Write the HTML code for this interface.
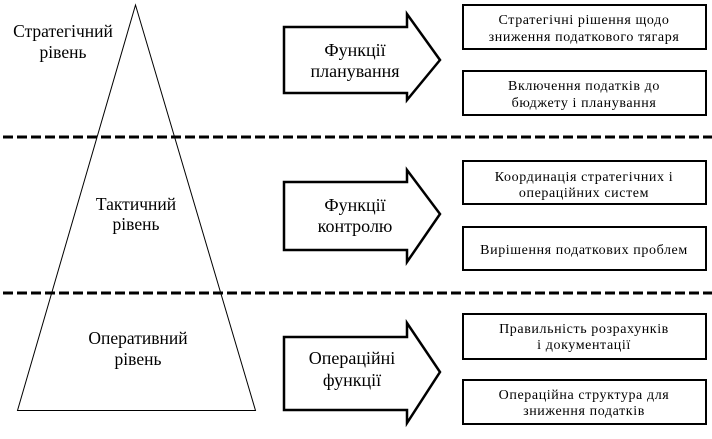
<!DOCTYPE html>
<html><head><meta charset="utf-8"><style>
body{margin:0;background:#fff;width:712px;height:434px;overflow:hidden}
svg text{font-family:"Liberation Serif","DejaVu Serif",serif;fill:#000}
</style></head><body>
<svg width="712" height="434" viewBox="0 0 712 434" xmlns="http://www.w3.org/2000/svg">
<polygon points="135.5,5 17.5,410.5 255.5,410.5" fill="none" stroke="#000" stroke-width="1"/>
<line x1="3" y1="137" x2="712" y2="137" stroke="#000" stroke-width="3" stroke-dasharray="10,4"/>
<line x1="3" y1="293" x2="712" y2="293" stroke="#000" stroke-width="3" stroke-dasharray="10,4"/>
<g font-size="17.5" text-anchor="middle">
<text x="63" y="37">Стратегічний</text><text x="63" y="58">рівень</text>
<text x="136" y="210">Тактичний</text><text x="136" y="230">рівень</text>
<text x="138" y="344">Оперативний</text><text x="138" y="365">рівень</text>
</g>
<g fill="#fff" stroke="#000" stroke-width="2.5">
<polygon points="284,27 407,27 407,14 440,60 407,100 407,93 284,93"/>
<polygon points="284,182 407,182 407,170 440,214 407,262 407,250 284,250"/>
<polygon points="284,337 407,337 407,323 440,372 407,423 407,410 284,410"/>
</g>
<g font-size="18" text-anchor="middle">
<text x="355" y="56">Функції</text><text x="355" y="77">планування</text>
<text x="355" y="211">Функції</text><text x="355" y="232">контролю</text>
<text x="352" y="364">Операційні</text><text x="352" y="386">функції</text>
</g>
<g fill="#fff" stroke="#000" stroke-width="2">
<rect x="463" y="5" width="243" height="44"/>
<rect x="463" y="71" width="243" height="44"/>
<rect x="463" y="161" width="243" height="43"/>
<rect x="463" y="227" width="243" height="43"/>
<rect x="463" y="314" width="243" height="45"/>
<rect x="463" y="380" width="243" height="44"/>
</g>
<g font-size="14" text-anchor="middle" letter-spacing="0.6">
<text x="584" y="24">Стратегічні рішення щодо</text><text x="584" y="41">зниження податкового тягаря</text>
<text x="584" y="90">Включення податків до</text><text x="584" y="107">бюджету і планування</text>
<text x="584" y="181">Координація стратегічних і</text><text x="584" y="197">операційних систем</text>
<text x="584" y="254">Вирішення податкових проблем</text>
<text x="584" y="333">Правильність розрахунків</text><text x="584" y="349">і документації</text>
<text x="584" y="399">Операційна структура для</text><text x="584" y="415">зниження податків</text>
</g>
</svg>
</body></html>
